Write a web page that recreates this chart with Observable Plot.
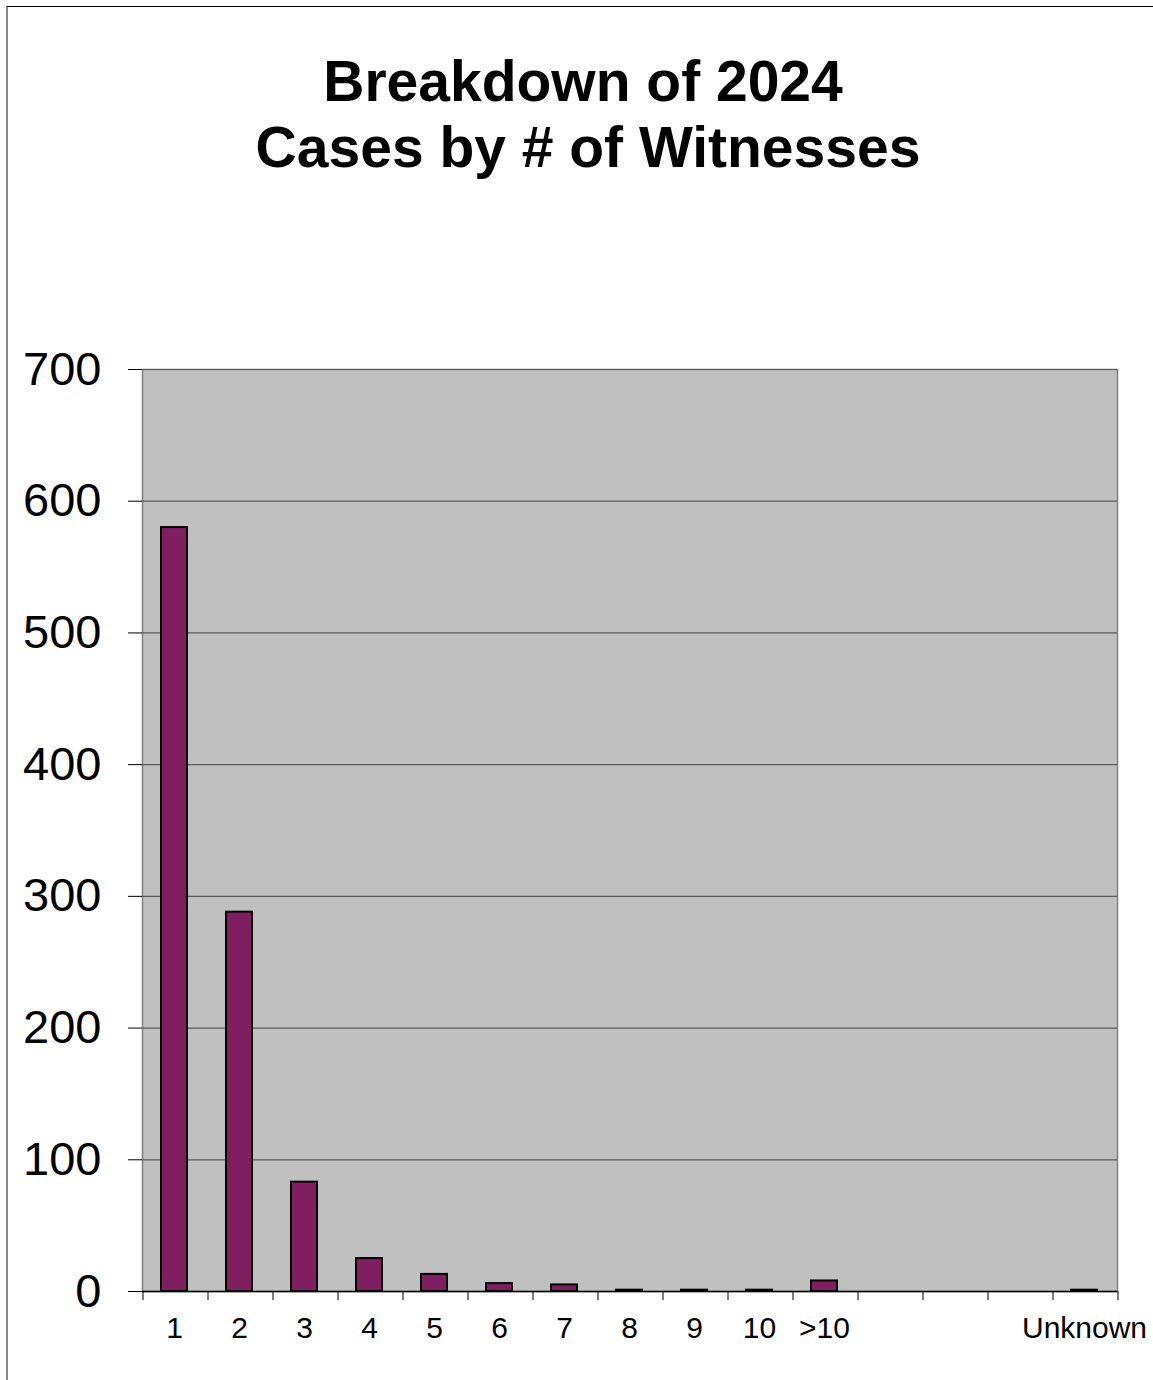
<!DOCTYPE html>
<html><head><meta charset="utf-8">
<script src="https://cdn.jsdelivr.net/npm/d3@7"></script>
<script src="https://cdn.jsdelivr.net/npm/@observablehq/plot@0.6"></script>
<style>
html,body{margin:0;padding:0;background:#fff;}
#page{position:relative;width:1153px;height:1380px;overflow:hidden;font-family:"Liberation Sans",Arial,sans-serif;}
#frame{position:absolute;left:6px;top:6px;width:1200px;height:1400px;border-top:1px solid #000;border-left:2px solid #888;box-sizing:border-box;}
#title{position:absolute;left:0;width:1176px;top:48px;text-align:center;font-weight:bold;font-size:57px;line-height:66px;color:#000;}
#title .l1{position:relative;left:-5px;}
#chart{position:absolute;left:0;top:300px;}
</style>
</head><body>
<div id="page">
  <div id="frame"></div>
  <div id="title"><span class="l1">Breakdown of 2024</span><br>Cases by # of Witnesses</div>
  <div id="chart"></div>
</div>
<script>
const slots = ["1","2","3","4","5","6","7","8","9","10",">10","blank1","blank2","blank3","Unknown"];
const tickLabels = ["1","2","3","4","5","6","7","8","9","10",">10","","","","Unknown"];
const cases = [580, 288, 83, 25, 13, 6, 5, 1, 1, 1, 8, null, null, null, 1];
const yTicks = [0, 100, 200, 300, 400, 500, 600, 700];

const data = slots.map((s, i) => ({slot: s, label: tickLabels[i], cases: cases[i]}));
const bars = data.filter(d => d.cases != null);

const W = 1153, H = 1080;
const mL = 142, mR = 36, mT = 69, mB = 89;
const step = (W - mL - mR) / slots.length;

const chart = Plot.plot({
  width: W,
  height: H,
  marginLeft: mL,
  marginRight: mR,
  marginTop: mT,
  marginBottom: mB,
  style: {fontFamily: "'Liberation Sans', Arial, sans-serif", color: "#000", background: "transparent", overflow: "visible"},
  x: {domain: slots, paddingInner: 0.6, paddingOuter: 0.3, label: null},
  y: {domain: [0, 700], label: null},
  marks: [
    Plot.frame({fill: "#c0c0c0", stroke: "#808080", strokeWidth: 1.5}),
    Plot.gridY(yTicks, {stroke: "#5a5a5a", strokeOpacity: 1, strokeWidth: 1.2}),
    Plot.barY(bars, {x: "slot", y: "cases", fill: "#801f5f", stroke: "#000", strokeWidth: 2, dx: -1}),
    Plot.ruleY([0], {stroke: "#000", strokeWidth: 1.5}),
    Plot.ruleX(slots, {x: d => d, y1: 0, y2: 0, dx: -step / 2, insetBottom: -9, stroke: "#000"}),
    Plot.ruleX([slots[slots.length - 1]], {x: d => d, y1: 0, y2: 0, dx: step / 2, insetBottom: -9, stroke: "#000"}),
    Plot.axisY(yTicks, {tickSize: 14, tickPadding: 27, fontSize: 47, tickFormat: d => String(d), label: null}),
    Plot.axisX({tickSize: 0, tickPadding: 25, fontSize: 30, dx: -1, tickFormat: d => tickLabels[slots.indexOf(d)], label: null})
  ]
});
document.getElementById("chart").appendChild(chart);
</script>
</body></html>
